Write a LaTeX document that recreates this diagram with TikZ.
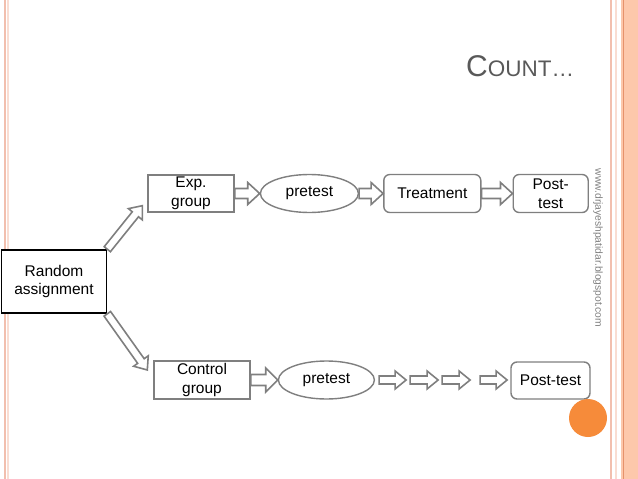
\documentclass[tikz,border=0pt]{standalone}
\usepackage{fontspec}
\setmainfont{Liberation Sans}
\usetikzlibrary{positioning}
\usetikzlibrary{calc}
\usetikzlibrary{shapes.geometric}

\definecolor{boxgray}{HTML}{7F7F7F}
\definecolor{titlegray}{HTML}{595959}
\definecolor{urlgray}{HTML}{808080}
\definecolor{bordpink}{HTML}{F2BFAE}
\definecolor{bordlight}{HTML}{F9DDD2}
\definecolor{stripfill}{HTML}{FDC8AB}
\definecolor{stripline}{HTML}{E5926C}
\definecolor{dotorange}{HTML}{F68B3A}

\newcommand{\boxfont}{\fontsize{15.5}{18.5}\selectfont}

\tikzset{
shaft/.store in=\arrshaft,
headw/.store in=\arrhead,
headl/.store in=\arrlen,
shaft=4pt, headw=9pt, headl=11pt
}

\begin{document}
\begin{tikzpicture}[x=1pt, y=-1pt,
plainbox/.style={rectangle, draw=boxgray, fill=white, line width=1.4pt, align=center, inner sep=0pt, font=\boxfont},
roundbox/.style={plainbox, rounded corners=6pt},
ovalnode/.style={ellipse, draw=boxgray, fill=white, line width=1.4pt, inner sep=0pt, font=\boxfont},
blockarrow/.style={draw=boxgray, fill=white, line width=1.6pt, line join=miter,
  to path={
    ($(\tikztostart)!\arrshaft!90:(\tikztotarget)$)
    -- ($($(\tikztotarget)!\arrlen!(\tikztostart)$)!\arrshaft!90:(\tikztotarget)$)
    -- ($($(\tikztotarget)!\arrlen!(\tikztostart)$)!\arrhead!90:(\tikztotarget)$)
    -- (\tikztotarget)
    -- ($($(\tikztotarget)!\arrlen!(\tikztostart)$)!\arrhead!-90:(\tikztotarget)$)
    -- ($($(\tikztotarget)!\arrlen!(\tikztostart)$)!\arrshaft!-90:(\tikztotarget)$)
    -- ($(\tikztostart)!\arrshaft!-90:(\tikztotarget)$)
    -- cycle}},
widearrow/.style={blockarrow, shaft=5pt, headw=11pt, headl=12pt}
]
\useasboundingbox (0,0) rectangle (638,479);

%Slide border
\fill[stripfill] (621,0) rectangle (638,479);
\draw[stripline, line width=1pt] (623,0) -- (623,479);
\draw[bordpink, line width=2pt] (611,0) -- (611,479);
\draw[bordlight, line width=1.5pt] (616,0) -- (616,479);
\draw[bordpink, line width=2pt] (4.5,0) -- (4.5,479);
\draw[bordlight, line width=1.5pt] (8,0) -- (8,479);

%Title and side text
\node[anchor=base west, inner sep=0pt, text=titlegray] (title) at (466,76)
  {\fontsize{30}{30}\selectfont C{\fontsize{22.5}{22.5}\selectfont OUNT…}};
\node[rotate=-90, inner sep=0pt, text=urlgray, font=\fontsize{10.3}{12}\selectfont] (url) at (598,248)
  {www.drjayeshpatidar.blogspot.com};

%Nodes
\node[rectangle, draw=black, fill=white, line width=1.6pt, align=center, inner sep=0pt, font=\boxfont,
      minimum width=105pt, minimum height=63pt] (rand) at (54,281.5) {Random\\assignment};

\node[plainbox, minimum width=86pt, minimum height=37pt] (exp) at (191,193.5) {Exp.\\group};
\node[ovalnode, minimum width=98pt, minimum height=38pt, right=25pt of exp] (pre1) {pretest};
\node[roundbox, minimum width=97pt, minimum height=38pt, right=24pt of pre1] (treat) {Treatment};
\node[roundbox, minimum width=75pt, minimum height=38pt, right=31pt of treat] (post1) {Post-\\test};

\node[plainbox, minimum width=96pt, minimum height=38pt] (ctrl) at (202,380) {Control\\group};
\node[ovalnode, minimum width=96pt, minimum height=38pt, right=27pt of ctrl] (pre2) {pretest};
\node[roundbox, minimum width=79pt, minimum height=37pt] (post2) at (550.5,380.5) {Post-test};

\fill[dotorange] (588,418) circle[radius=19pt];

%Lines
\coordinate (expin) at ([xshift=-5pt,yshift=7pt]exp.south west);
\coordinate (ctrlin) at ([xshift=-6pt,yshift=10pt]ctrl.west);
\draw[blockarrow] (rand.north east) to (expin);
\draw[blockarrow] (rand.south east) to (ctrlin);

\draw[widearrow] (exp.east) to (pre1.west);
\draw[widearrow] (pre1.east) to (treat.west);
\draw[widearrow] (treat.east) to (post1.west);

\draw[widearrow, shaft=5.5pt, headw=12pt] (ctrl.east) to (pre2.west);
\foreach \i/\xa/\xb in {1/4/31, 2/35/63, 3/67/95, 4/105/132} {
  \coordinate (s\i) at ([xshift=\xa pt]pre2.east);
  \coordinate (e\i) at ([xshift=\xb pt]pre2.east);
  \draw[blockarrow] (s\i) to (e\i);
}

\end{tikzpicture}
\end{document}
